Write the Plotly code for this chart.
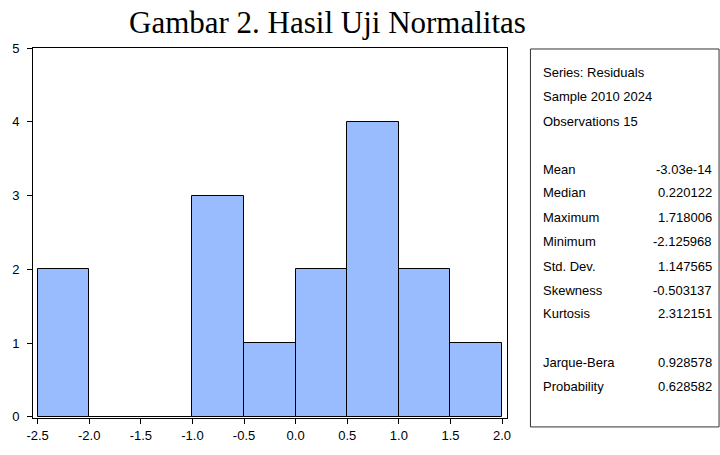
import plotly.graph_objects as go

# ---- data ----
bin_starts = [-2.5, -2.0, -1.5, -1.0, -0.5, 0.0, 0.5, 1.0, 1.5]
counts = [2, 0, 0, 3, 1, 2, 4, 2, 1]
bin_width = 0.5

x_tick_vals = [-2.5, -2.0, -1.5, -1.0, -0.5, 0.0, 0.5, 1.0, 1.5, 2.0]
x_tick_text = ["-2.5", "-2.0", "-1.5", "-1.0", "-0.5", "0.0", "0.5", "1.0", "1.5", "2.0"]
y_tick_vals = [0, 1, 2, 3, 4, 5]

title_text = "Gambar 2. Hasil Uji Normalitas"
header_lines = ["Series: Residuals", "Sample 2010 2024", "Observations 15"]
stat_names = ["Mean", "Median", "Maximum", "Minimum", "Std. Dev.", "Skewness", "Kurtosis"]
stat_values = ["-3.03e-14", "0.220122", "1.718006", "-2.125968", "1.147565", "-0.503137", "2.312151"]
test_names = ["Jarque-Bera", "Probability"]
test_values = ["0.928578", "0.628582"]

# ---- layout geometry (pixels) ----
W, H = 720, 455
L, R, T, B = 32, 507, 48, 421

def px(xp):
    return (xp - L) / (R - L)

def py(yp):
    return (B - yp) / (B - T)

centers = [s + bin_width / 2 for s in bin_starts]

fig = go.Figure()
fig.add_trace(go.Bar(
    x=centers, y=counts, width=[bin_width] * len(counts),
    marker=dict(color="#99BCFF", line=dict(color="black", width=1)),
    hoverinfo="skip",
))

narrow = "Liberation Sans Narrow, Arial Narrow, Liberation Sans, Arial, sans-serif"
fs = 13

annotations = []
annotations.append(dict(
    text=title_text, xref="paper", yref="paper", x=px(327), y=py(22),
    xanchor="center", yanchor="middle", showarrow=False,
    font=dict(family="Liberation Serif, Times New Roman, serif", size=31, color="black"),
))

def add_text(t, xx, yy, anchor):
    annotations.append(dict(text=t, xref="paper", yref="paper", x=px(xx), y=py(yy),
                            xanchor=anchor, yanchor="middle", showarrow=False,
                            font=dict(family=narrow, size=fs, color="black")))

row_y = [73, 97, 122]
for t, yy in zip(header_lines, row_y):
    add_text(t, 541, yy, "left")
stat_y = [170, 194, 219, 243, 268, 292, 316]
for n, v, yy in zip(stat_names, stat_values, stat_y):
    add_text(n, 541, yy, "left")
    add_text(v, 714, yy, "right")
test_y = [365, 389]
for n, v, yy in zip(test_names, test_values, test_y):
    add_text(n, 541, yy, "left")
    add_text(v, 714, yy, "right")

shapes = [dict(type="rect", xref="paper", yref="paper",
               x0=px(530.5), x1=px(719.5), y0=py(430), y1=py(49),
               line=dict(color="#333333", width=1), fillcolor="rgba(0,0,0,0)")]

fig.update_layout(
    width=W, height=H,
    margin=dict(l=L, r=W - R, t=T, b=H - B, pad=0),
    plot_bgcolor="white", paper_bgcolor="white",
    showlegend=False, bargap=0,
    annotations=annotations, shapes=shapes,
    xaxis=dict(range=[-2.545, 2.048], tickmode="array", tickvals=x_tick_vals, ticktext=x_tick_text,
               showgrid=False, zeroline=False,
               showline=True, linecolor="black", linewidth=1, mirror=True,
               ticks="outside", ticklen=5, tickcolor="black",
               tickfont=dict(family=narrow, size=fs, color="black")),
    yaxis=dict(range=[-0.015, 5], tickmode="array", tickvals=y_tick_vals,
               showgrid=False, zeroline=False,
               showline=True, linecolor="black", linewidth=1, mirror=True,
               ticks="outside", ticklen=5, tickcolor="black", ticklabelstandoff=5,
               tickfont=dict(family=narrow, size=fs, color="black")),
)

fig.write_html("out.html", config={"displayModeBar": False})

# remove default body margin so the figure sits at the window origin
with open("out.html", "r", encoding="utf-8") as f:
    html = f.read()
html = html.replace("<head>", "<head><style>html,body{margin:0;padding:0;overflow:hidden;}</style>", 1)
with open("out.html", "w", encoding="utf-8") as f:
    f.write(html)
